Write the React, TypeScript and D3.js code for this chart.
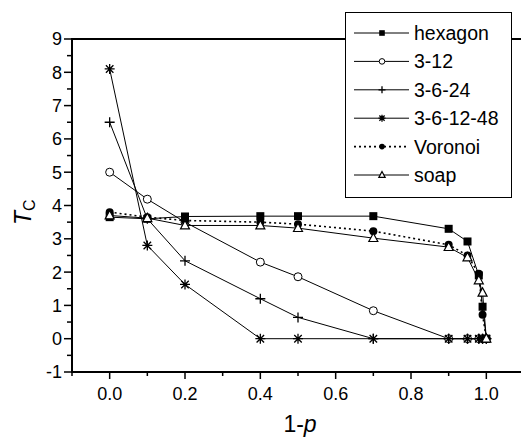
import React, { useRef, useEffect } from 'react';
import * as d3 from 'd3';

// x values (1-p) shared by all series
const xs = [0, 0.1, 0.2, 0.4, 0.5, 0.7, 0.9, 0.95, 0.98, 0.99, 1.0];

const hexagon = [3.65, 3.6, 3.67, 3.68, 3.68, 3.68, 3.3, 2.92, 1.9, 0.96, 0];
const tri12 = [5.0, 4.19, 3.5, 2.3, 1.86, 0.84, 0, 0, 0, 0, 0];
const tri6_24 = [6.5, 3.6, 2.34, 1.2, 0.64, 0, 0, 0, 0, 0, 0];
const tri6_12_48 = [8.1, 2.8, 1.63, 0, 0, 0, 0, 0, 0, 0, 0];
const voronoi = [3.8, 3.65, 3.55, 3.5, 3.44, 3.23, 2.82, 2.5, 1.95, 0.72, 0];
const soap = [3.7, 3.62, 3.4, 3.4, 3.32, 3.02, 2.75, 2.44, 1.75, 1.38, 0];

const seriesNames = ['hexagon', '3-12', '3-6-24', '3-6-12-48', 'Voronoi', 'soap'];
const yTickLabels = [-1, 0, 1, 2, 3, 4, 5, 6, 7, 8, 9];
const xTickLabels = [0.0, 0.2, 0.4, 0.6, 0.8, 1.0];

const FONT = '"Liberation Sans", Arial, Helvetica, sans-serif';

// marker drawing per series, size s
const drawMarker = (g, kind, s) => {
  if (kind === 'square') {
    g.append('rect').attr('x', -s).attr('y', -s).attr('width', 2 * s).attr('height', 2 * s)
      .attr('fill', '#000');
  } else if (kind === 'circle') {
    g.append('circle').attr('r', s).attr('fill', '#fff').attr('stroke', '#000').attr('stroke-width', 1);
  } else if (kind === 'dot') {
    g.append('circle').attr('r', s).attr('fill', '#000');
  } else if (kind === 'plus') {
    g.append('path').attr('d', `M${-s},0H${s}M0,${-s}V${s}`).attr('stroke', '#000').attr('stroke-width', 1.3);
  } else if (kind === 'star') {
    const d = s * 0.75;
    g.append('path')
      .attr('d', `M${-s},0H${s}M0,${-s}V${s}M${-d},${-d}L${d},${d}M${-d},${d}L${d},${-d}`)
      .attr('stroke', '#000').attr('stroke-width', 1.3);
  } else if (kind === 'triangle') {
    g.append('path').attr('d', `M0,${-s * 1.1}L${s},${s * 0.75}L${-s},${s * 0.75}Z`)
      .attr('fill', '#fff').attr('stroke', '#000').attr('stroke-width', 1.2);
  }
};

const App = () => {
  const svgRef = useRef();

  useEffect(() => {
    const svg = d3.select(svgRef.current);
    svg.selectAll('*').remove();

    const width = 521;
    const height = 439;
    const margin = { top: 39, right: -3, bottom: 67, left: 72 };

    const x = d3.scaleLinear().domain([-0.1, 1.1]).range([margin.left, width - margin.right]);
    const y = d3.scaleLinear().domain([-1, 9]).range([height - margin.bottom, margin.top]);

    const series = [
      { name: seriesNames[0], values: hexagon, marker: 'square', size: 4, dash: null },
      { name: seriesNames[1], values: tri12, marker: 'circle', size: 4, dash: null },
      { name: seriesNames[2], values: tri6_24, marker: 'plus', size: 5, dash: null },
      { name: seriesNames[3], values: tri6_12_48, marker: 'star', size: 5, dash: null },
      { name: seriesNames[4], values: voronoi, marker: 'dot', size: 4, dash: '2,3' },
      { name: seriesNames[5], values: soap, marker: 'triangle', size: 4.5, dash: null },
    ];

    // axes
    const yMinor = d3.range(-1, 9.01, 0.5);
    const xMinor = d3.range(-0.1, 1.11, 0.1).map(v => Math.round(v * 10) / 10);

    const yAxis = svg.append('g').attr('transform', `translate(${margin.left},0)`);
    yAxis.append('line').attr('y1', y(-1) + 1).attr('y2', y(9) - 1).attr('stroke', '#000').attr('stroke-width', 2);
    yAxis.selectAll('.minor').data(yMinor).join('line')
      .attr('x1', 0).attr('x2', d => (Number.isInteger(d) ? -8 : -5))
      .attr('y1', d => y(d)).attr('y2', d => y(d))
      .attr('stroke', '#000').attr('stroke-width', 1.5);
    yAxis.selectAll('text').data(yTickLabels).join('text')
      .attr('x', -10).attr('y', d => y(d)).attr('dy', '0.36em')
      .attr('text-anchor', 'end').attr('font-family', FONT).attr('font-size', 18)
      .text(d => d);

    const xAxis = svg.append('g').attr('transform', `translate(0,${y(-1)})`);
    xAxis.append('line').attr('x1', margin.left - 1).attr('x2', width).attr('stroke', '#000').attr('stroke-width', 2);
    xAxis.selectAll('.tick').data(xMinor).join('line')
      .attr('x1', d => x(d)).attr('x2', d => x(d))
      .attr('y1', 0).attr('y2', d => (Math.round(d * 10) % 2 === 0 ? 7 : 4))
      .attr('stroke', '#000').attr('stroke-width', 1.5);
    xAxis.selectAll('text').data(xTickLabels).join('text')
      .attr('x', d => x(d)).attr('y', 28)
      .attr('text-anchor', 'middle').attr('font-family', FONT).attr('font-size', 18)
      .text(d => d3.format('.1f')(d));

    // top frame line
    svg.append('line').attr('x1', margin.left - 1).attr('x2', width).attr('y1', y(9)).attr('y2', y(9))
      .attr('stroke', '#000').attr('stroke-width', 2);

    // axis titles
    const yt = svg.append('text')
      .attr('transform', `translate(31,${y(3.8)}) rotate(-90)`)
      .attr('text-anchor', 'middle').attr('font-family', FONT).attr('font-size', 23);
    yt.append('tspan').attr('font-style', 'italic').text('T');
    yt.append('tspan').attr('font-size', 16).attr('dy', 4).text('C');

    const xt = svg.append('text')
      .attr('x', 300).attr('y', 432)
      .attr('text-anchor', 'middle').attr('font-family', FONT).attr('font-size', 23);
    xt.append('tspan').text('1-');
    xt.append('tspan').attr('font-style', 'italic').text('p');

    // lines and markers
    const line = d3.line().x((d, i) => x(xs[i])).y(d => y(d));
    series.forEach(s => {
      svg.append('path').datum(s.values).attr('d', line)
        .attr('fill', 'none').attr('stroke', '#000').attr('stroke-width', s.dash ? 1.6 : 1)
        .attr('stroke-dasharray', s.dash);
    });
    series.forEach(s => {
      s.values.forEach((v, i) => {
        const g = svg.append('g').attr('transform', `translate(${x(xs[i])},${y(v)})`);
        drawMarker(g, s.marker, s.size);
      });
    });

    // legend
    const lg = svg.append('g');
    lg.append('rect').attr('x', 345.5).attr('y', 12.5).attr('width', 166).attr('height', 185)
      .attr('fill', '#fff').attr('stroke', '#000').attr('stroke-width', 1);
    series.forEach((s, i) => {
      const ly = 33 + i * 28.4;
      lg.append('line').attr('x1', 354).attr('x2', 409).attr('y1', ly).attr('y2', ly)
        .attr('stroke', '#000').attr('stroke-width', s.dash ? 1.6 : 1).attr('stroke-dasharray', s.dash);
      const g = lg.append('g').attr('transform', `translate(382,${ly})`);
      drawMarker(g, s.marker, s.size * 0.7);
      lg.append('text').attr('x', 414).attr('y', ly).attr('dy', '0.36em')
        .attr('font-family', FONT).attr('font-size', 19.5).text(s.name);
    });
  }, []);

  return (
    <svg ref={svgRef} width={521} height={439}
      style={{ position: 'absolute', left: 0, top: 0, background: '#fff' }} />
  );
};

export default App;
